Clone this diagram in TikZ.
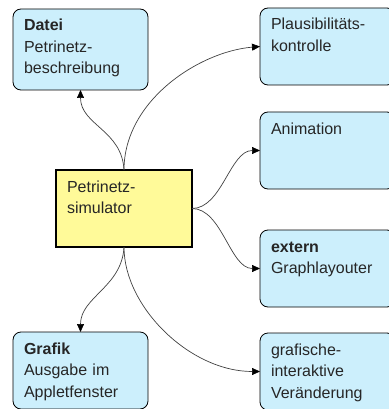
\documentclass[tikz,border=0pt]{standalone}
\usepackage{fontspec}
\setmainfont{Liberation Sans}
\usetikzlibrary{arrows.meta}
\usetikzlibrary{positioning}

\begin{document}
\begin{tikzpicture}[x=1pt, y=-1pt, >={Triangle[length=8pt,width=7pt,color=black]}]
\tikzstyle{every node} = [font=\fontsize{16}{21.5}\selectfont, text=black!85]
\tikzstyle{modul} = [draw=black, line width=0.8pt, fill=cyan!20, rounded corners=8pt, anchor=north west, inner xsep=11pt, inner ysep=0pt, outer sep=0pt, text width=113pt, align=left, text height=22pt, text depth=55pt]
\tikzstyle{kern} = [draw=black, line width=1.8pt, fill=yellow!40, anchor=north west, inner xsep=11pt, inner ysep=0pt, outer sep=0pt, text width=114pt, align=left, text height=22pt, text depth=55pt]
\tikzstyle{pfeil} = [->, draw=black!75, line width=0.7pt]

\useasboundingbox (0,0) rectangle (388,409);

\node[kern] (sim) at (56,170) {Petrinetz-\\simulator};

\node[modul, text depth=59pt] (datei) at (13,9) {\textbf{Datei}\\Petrinetz-\\beschreibung};
\node[modul] (grafik) at (13,332) {\textbf{Grafik}\\Ausgabe im\\Appletfenster};

\node[modul] (plaus) at (260,8) {Plausibilitäts-\\kontrolle};
\node[modul] (anim) at (260,112) {Animation};
\node[modul] (layout) at (260,230) {\textbf{extern}\\Graphlayouter};
\node[modul] (edit) at (260,333) {grafische-\\interaktive\\Veränderung};

\draw[pfeil] (sim.north) .. controls +(-2,-40) and +(0,35) .. (datei.south);
\draw[pfeil] (sim.north) .. controls +(0,-70) and +(-60,5) .. (plaus.west);
\draw[pfeil] (sim.east) .. controls +(30,0) and +(-30,0) .. (anim.west);
\draw[pfeil] (sim.east) .. controls +(30,0) and +(-30,0) .. (layout.west);
\draw[pfeil] (sim.south) .. controls +(-2,40) and +(0,-35) .. (grafik.north);
\draw[pfeil] (sim.south) .. controls +(0,60) and +(-70,0) .. (edit.west);

\end{tikzpicture}
\end{document}
